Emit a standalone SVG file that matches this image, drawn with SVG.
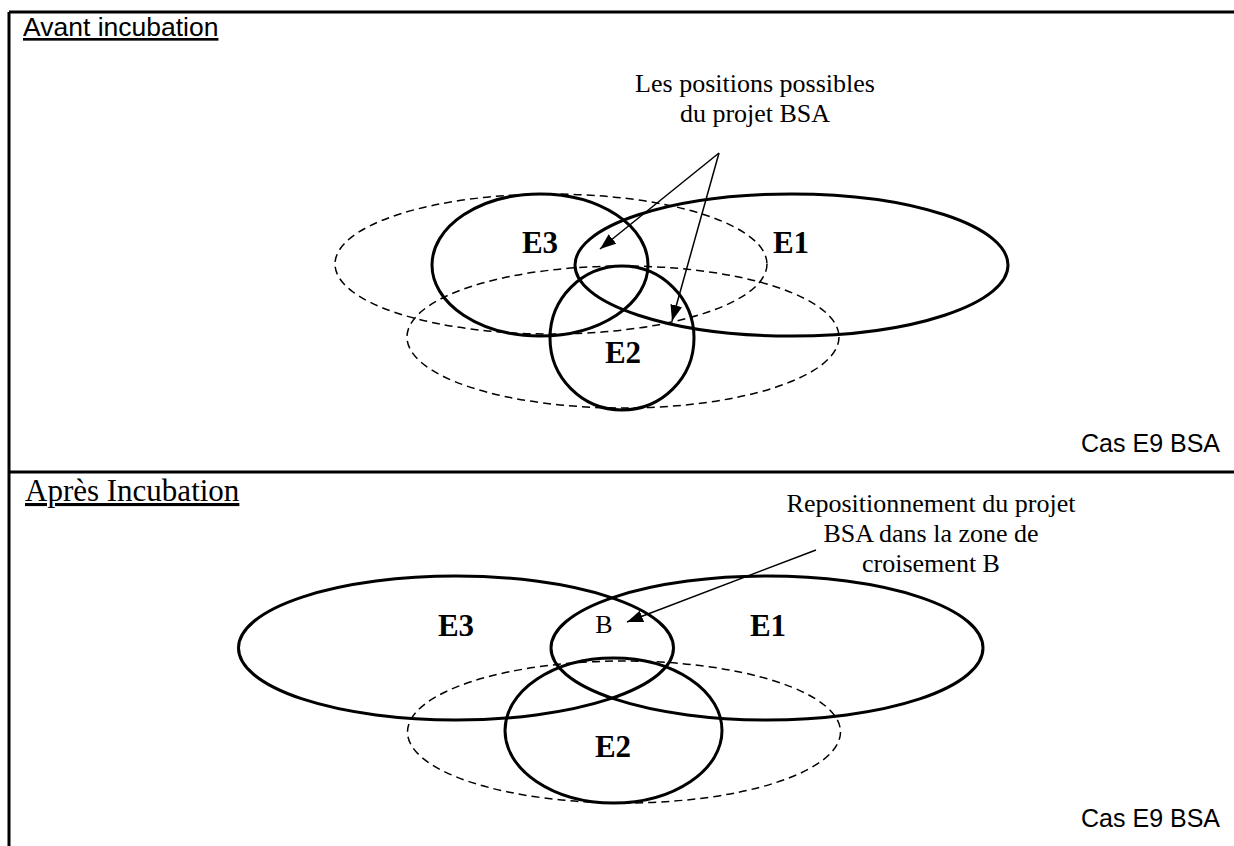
<svg xmlns="http://www.w3.org/2000/svg" width="1234" height="846" viewBox="0 0 1234 846">
<defs>
<style>
.frame{stroke:#000;stroke-width:3;fill:none}
.set{fill:none;stroke:#000;stroke-width:3}
.dash{fill:none;stroke:#000;stroke-width:1.5;stroke-dasharray:8 5}
.arrow{stroke:#000;stroke-width:1.5;fill:none;marker-end:url(#ah)}
.lbl{font-family:"Liberation Serif","Times New Roman",serif;font-weight:bold;font-size:31px;text-anchor:middle}
.note{font-family:"Liberation Serif","Times New Roman",serif;text-anchor:middle;font-size:26px}
.sans{font-family:"Liberation Sans",Arial,sans-serif}
</style>
<marker id="ah" markerUnits="userSpaceOnUse" markerWidth="18" markerHeight="12" refX="16" refY="6" orient="auto">
<path d="M0,0 L16,6 L0,12 Z" fill="#000"/>
</marker>
</defs>
<rect width="1234" height="846" fill="#fff"/>
<g id="frame">
<line class="frame" x1="9" y1="12" x2="1234" y2="12"/>
<line class="frame" x1="9" y1="12" x2="9" y2="846"/>
<line class="frame" x1="9" y1="472" x2="1234" y2="472"/>
</g>
<g id="titles">
<text class="sans" x="23" y="36" font-size="26.5" text-decoration="underline">Avant incubation</text>
<text class="sans" x="1220" y="452" font-size="25" text-anchor="end">Cas E9 BSA</text>
<text x="25" y="501" font-family="Liberation Serif,'Times New Roman',serif" font-size="31" text-decoration="underline">Après Incubation</text>
<text class="sans" x="1220" y="827" font-size="25" text-anchor="end">Cas E9 BSA</text>
</g>
<g id="top-sets">
<g id="top-dash-upper"><ellipse class="dash" cx="551" cy="264" rx="216" ry="70"/></g>
<g id="top-dash-lower"><ellipse class="dash" cx="623" cy="337" rx="216" ry="71"/></g>
<g id="top-E3"><ellipse class="set" cx="540" cy="265" rx="108" ry="71"/><text class="lbl" x="540" y="253">E3</text></g>
<g id="top-E1"><ellipse class="set" cx="791.5" cy="265" rx="216.5" ry="71"/><text class="lbl" x="791" y="253">E1</text></g>
<g id="top-E2"><ellipse class="set" cx="622" cy="338" rx="72" ry="72"/><text class="lbl" x="623" y="363">E2</text></g>
<g id="top-note"><text class="note"><tspan x="755" y="92">Les positions possibles</tspan><tspan x="755" y="122">du projet BSA</tspan></text></g>
</g>
<g id="bottom-sets">
<g id="bot-dash"><ellipse class="dash" cx="624" cy="732" rx="216.5" ry="71"/></g>
<g id="bot-E3"><ellipse class="set" cx="456" cy="648" rx="217.5" ry="72"/><text class="lbl" x="456" y="636">E3</text></g>
<g id="bot-E1"><ellipse class="set" cx="767" cy="648" rx="216" ry="72"/><text class="lbl" x="768" y="636">E1</text></g>
<g id="bot-E2"><ellipse class="set" cx="613.5" cy="730.5" rx="108.5" ry="72.5"/><text class="lbl" x="613" y="757">E2</text></g>
<g id="bot-B"><text class="note" x="604" y="633">B</text></g>
<g id="bot-note"><text class="note"><tspan x="931" y="512">Repositionnement du projet</tspan><tspan x="931" y="542">BSA dans la zone de</tspan><tspan x="931" y="572">croisement B</tspan></text></g>
</g>
<g id="connectors">
<line class="arrow" x1="719" y1="153" x2="600" y2="249"/>
<line class="arrow" x1="719" y1="153" x2="672" y2="321"/>
<line class="arrow" x1="816" y1="550" x2="627" y2="622"/>
</g>
</svg>
